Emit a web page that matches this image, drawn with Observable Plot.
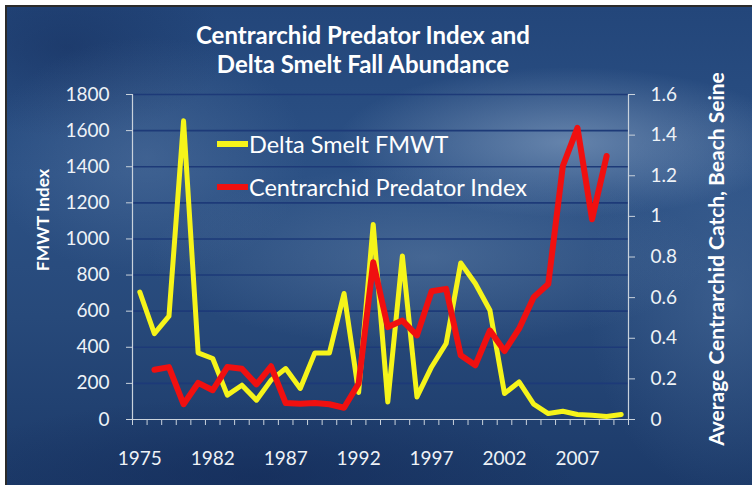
<!DOCTYPE html>
<html>
<head>
<meta charset="utf-8">
<script src="https://cdn.jsdelivr.net/npm/d3@7"></script>
<script src="https://cdn.jsdelivr.net/npm/@observablehq/plot@0.6"></script>
<style>
  html, body { margin: 0; padding: 0; background: #ffffff; }
  #wrap { position: relative; width: 752px; height: 485px; overflow: hidden; background: #fff; font-family: Lato, "Open Sans", sans-serif; }
  #bg { position: absolute; left: 5px; top: 5px; right: 0; bottom: 0;
        border-left: 2px solid #2b2b2b; border-top: 2px solid #2b2b2b;
        background:
          radial-gradient(ellipse 230px 75px at 560px 135px, rgba(150,175,205,0.55), rgba(150,175,205,0) 100%),
          radial-gradient(ellipse 280px 90px at 420px 250px, rgba(120,150,185,0.35), rgba(120,150,185,0) 100%),
          radial-gradient(ellipse 160px 120px at 140px 150px, rgba(100,130,170,0.35), rgba(100,130,170,0) 100%),
          radial-gradient(ellipse 140px 200px at 720px 290px, rgba(90,125,170,0.35), rgba(90,125,170,0) 100%),
          radial-gradient(ellipse 320px 80px at 250px 470px, rgba(18,40,85,0.55), rgba(18,40,85,0) 100%),
          radial-gradient(ellipse 160px 90px at 60px 40px, rgba(18,40,85,0.4), rgba(18,40,85,0) 100%),
          linear-gradient(180deg, #23467a 0%, #2c5185 35%, #27497a 65%, #1c3a69 100%);
  }
  #plot { position: absolute; left: 0; top: 0; }
  .title { position: absolute; left: 0; width: 726px; text-align: center; color: #ffffff; font-weight: 700; font-size: 24px; line-height: 29px; top: 20px; }
  .leg { position: absolute; left: 217px; color: #ffffff; font-size: 23.5px; display: flex; align-items: center; height: 28px; }
  .leg .sw { width: 31px; height: 6px; margin-right: 1px; }
  .ytitle { position: absolute; color: #ffffff; font-weight: 700; white-space: nowrap; transform: translate(-50%, -50%) rotate(-90deg); }
</style>
</head>
<body>
<div id="wrap">
  <div id="bg"></div>
  <div id="plot"></div>
  <div class="title">Centrarchid Predator Index and<br>Delta Smelt Fall Abundance</div>
  <div class="leg" style="top:130px"><div class="sw" style="background:#f6f41a"></div>Delta Smelt FMWT</div>
  <div class="leg" style="top:173px"><div class="sw" style="background:#f01010"></div>Centrarchid Predator Index</div>
  <div class="ytitle" style="left:42px; top:220px; font-size:17.5px;">FMWT Index</div>
  <div class="ytitle" style="left:715px; top:259px; font-size:21px;">Average Centrarchid Catch, Beach Seine</div>
</div>
<script>
// Categories (survey years shown on the chart)
const years = [1975, 1976, 1978, 1980, 1981, 1982, 1983, 1984, 1985, 1986,
               1987, 1988, 1989, 1990, 1991, 1992, 1993, 1994, 1995, 1996,
               1997, 1998, 1999, 2000, 2001, 2002, 2003, 2004, 2005, 2006,
               2007, 2008, 2009, 2010];
// Delta Smelt FMWT index (left axis)
const smelt = [706, 476, 572, 1654, 369, 338, 135, 190, 107, 218,
               282, 172, 369, 369, 698, 150, 1080, 97, 905, 125,
               291, 421, 867, 753, 605, 144, 208, 85, 33, 46,
               28, 23, 17, 28];
// Centrarchid Predator Index (right axis)
const predator = [null, 0.245, 0.258, 0.075, 0.18, 0.144, 0.258, 0.25, 0.173, 0.262,
                  0.081, 0.078, 0.081, 0.075, 0.058, 0.177, 0.774, 0.455, 0.487, 0.414,
                  0.631, 0.643, 0.316, 0.267, 0.438, 0.337, 0.447, 0.602, 0.667, 1.248,
                  1.436, 0.986, 1.297, null];
// Tick labels
const xTickLabels = ["1975", "1982", "1987", "1992", "1997", "2002", "2007"];
const leftTicks = [0, 200, 400, 600, 800, 1000, 1200, 1400, 1600, 1800];
const rightTicks = [0, 0.2, 0.4, 0.6, 0.8, 1, 1.2, 1.4, 1.6];

const leftMax = 1800, rightMax = 1.6;
const k = leftMax / rightMax;

const rows = years.map((yr, i) => ({i, year: yr, smelt: smelt[i], pred: predator[i]}));
const xDomain = [-0.5, years.length - 0.5];
const boundaries = d3.range(xDomain[0], xDomain[1] + 0.001, 1);
const labelPos = xTickLabels.map(l => years.indexOf(+l));

const axisColor = "#c9d2dc";

const chart = Plot.plot({
  width: 752,
  height: 485,
  marginLeft: 132,
  marginRight: 124,
  marginTop: 94,
  marginBottom: 66,
  style: {background: "transparent", color: "#eef2f7", fontFamily: "Lato, 'Open Sans', sans-serif", fontSize: "19px"},
  x: {type: "linear", domain: xDomain, axis: null},
  y: {domain: [0, leftMax], axis: null},
  marks: [
    Plot.gridY(leftTicks.filter(d => d > 0), {stroke: "#1d3a78", strokeOpacity: 1, strokeWidth: 1.6}),
    Plot.axisY({ticks: leftTicks, anchor: "left", tickSize: 6, tickPadding: 17, stroke: axisColor, tickFormat: d => String(d), label: null}),
    Plot.axisY({ticks: rightTicks.map(d => d * k), anchor: "right", tickSize: 6, tickPadding: 16, stroke: axisColor,
                tickFormat: d => String(Math.round(d / k * 10) / 10), label: null}),
    Plot.axisX({ticks: boundaries, anchor: "bottom", tickSize: 6, stroke: axisColor, tickFormat: () => "", label: null}),
    Plot.axisX({ticks: labelPos, anchor: "bottom", tickSize: 0, tickPadding: 32,
                tickFormat: i => xTickLabels[labelPos.indexOf(i)], label: null}),
    Plot.ruleX(xDomain, {stroke: axisColor, strokeWidth: 1.2}),
    Plot.ruleY([0], {stroke: axisColor, strokeWidth: 1.2}),
    Plot.line(rows, {x: "i", y: "smelt", stroke: "#f6f41a", strokeWidth: 5}),
    Plot.line(rows.filter(d => d.pred != null), {x: "i", y: d => d.pred * k, stroke: "#f01010", strokeWidth: 6})
  ]
});
document.getElementById("plot").appendChild(chart);
</script>
</body>
</html>
